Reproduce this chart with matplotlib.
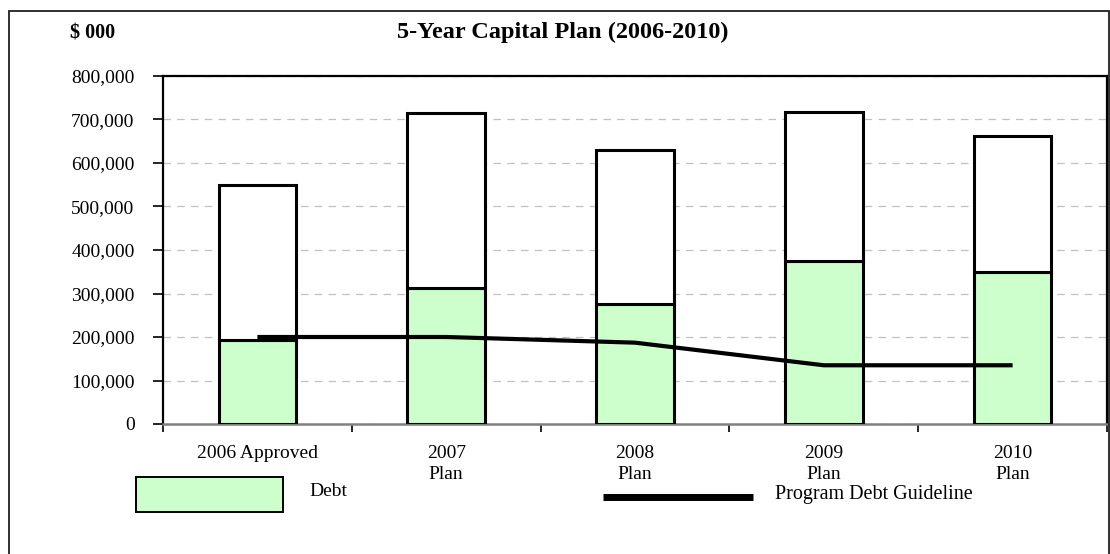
import matplotlib
matplotlib.use('Agg')
import matplotlib.pyplot as plt
import numpy as np
from matplotlib.patches import Rectangle
from matplotlib.lines import Line2D
from matplotlib.ticker import StrMethodFormatter

plt.rcParams['font.family'] = ['Liberation Serif', 'DejaVu Serif']

# capital plan, $000
years = ['2006 Approved', '2007\nPlan', '2008\nPlan', '2009\nPlan', '2010\nPlan']
total = [550000, 715000, 630000, 718000, 662000]
debt = [193000, 312000, 277000, 374000, 350000]
guideline = [200000, 200000, 187000, 135000, 135000]

other = np.array(total) - np.array(debt)
x = np.arange(len(years))

W, H = 1110, 554
fig = plt.figure(figsize=(W / 100, H / 100), dpi=100)

# outer frame
fig.patches.append(Rectangle((8.5 / W, -0.05), (1109 - 8.5) / W, 1 - 11 / H + 0.05,
                             transform=fig.transFigure, fill=False,
                             edgecolor='#202020', linewidth=1.3))

ax = fig.add_axes([163 / W, 1 - 424 / H, 944 / W, 348 / H])

ax.bar(x, debt, width=0.41, color='#CCFFCC', edgecolor='black', linewidth=2.2, zorder=3)
ax.bar(x, other, width=0.41, bottom=debt, color='white', edgecolor='black',
       linewidth=2.2, zorder=3)
ax.plot(x, guideline, color='black', linewidth=3, zorder=4, solid_capstyle='butt')

ax.set_xlim(-0.5, len(years) - 0.5)
ax.set_ylim(0, 800000)
ax.set_yticks(np.arange(0, 800001, 100000))
ax.yaxis.set_major_formatter(StrMethodFormatter('{x:,.0f}'))
ax.yaxis.grid(True, color='#c0c0c0', linestyle=(0, (6, 5)), linewidth=0.9, zorder=0)
ax.set_axisbelow(True)

ax.set_xticks(x)
ax.set_xticklabels(years, fontsize=14, linespacing=1.3)
ax.set_xticks(np.arange(-0.5, len(years)), minor=True)
ax.tick_params(axis='x', which='major', length=0, pad=15)
ax.tick_params(axis='x', which='minor', length=6, width=1.2, direction='out')
ax.tick_params(axis='y', labelsize=14, length=7, width=1.2, direction='out', pad=13.5)

for side in ['left', 'top', 'right']:
    ax.spines[side].set_color('black')
    ax.spines[side].set_linewidth(1.6)
ax.spines['bottom'].set_color('#808080')
ax.spines['bottom'].set_linewidth(1.8)

fig.text(563 / W, 1 - 32 / H, '5-Year Capital Plan (2006-2010)', ha='center', va='center',
         fontsize=17.5, fontweight='bold')
fig.text(70 / W, 1 - 33 / H, '$ 000', ha='left', va='center', fontsize=14.5, fontweight='bold')

# legend drawn underneath the categories
fig.patches.append(Rectangle((136 / W, 1 - 512 / H), 147 / W, 35 / H, transform=fig.transFigure,
                             facecolor='#CCFFCC', edgecolor='black', linewidth=1.4))
fig.text(309 / W, 1 - 491 / H, 'Debt', ha='left', va='center', fontsize=14)
fig.lines.append(Line2D([603 / W, 753 / W], [1 - 497 / H, 1 - 497 / H], transform=fig.transFigure,
                        color='black', linewidth=5, solid_capstyle='butt'))
fig.text(775 / W, 1 - 494 / H, 'Program Debt Guideline', ha='left', va='center', fontsize=14.5)

fig.savefig('out.png', dpi=100)
